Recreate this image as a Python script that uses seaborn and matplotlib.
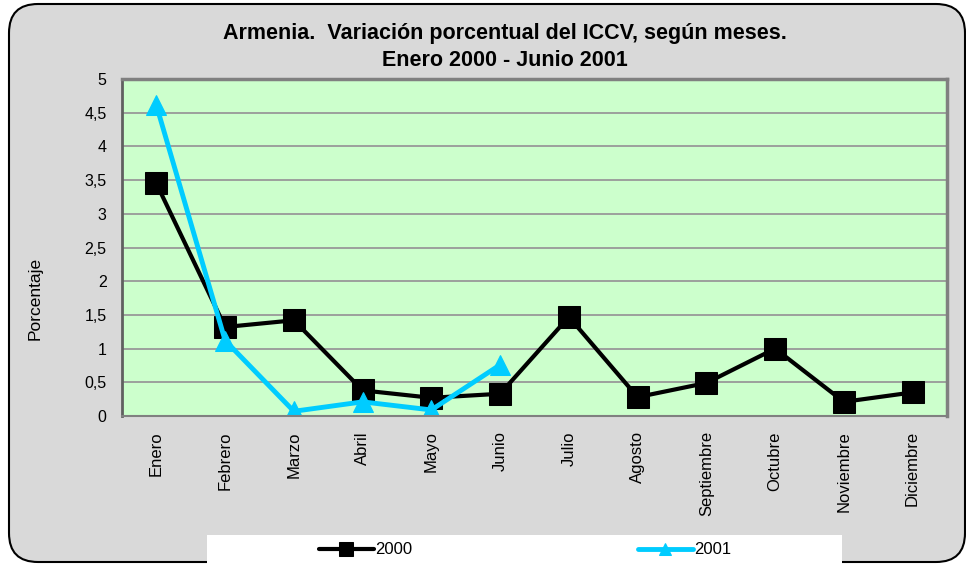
import numpy as np
import pandas as pd
import matplotlib
matplotlib.use('Agg')
import matplotlib.pyplot as plt
import seaborn as sns
from matplotlib.patches import FancyBboxPatch, Rectangle

# datos
meses = ['Enero', 'Febrero', 'Marzo', 'Abril', 'Mayo', 'Junio', 'Julio',
         'Agosto', 'Septiembre', 'Octubre', 'Noviembre', 'Diciembre']
v2000 = [3.45, 1.32, 1.42, 0.38, 0.27, 0.33, 1.47, 0.28, 0.49, 1.0, 0.21, 0.35]
v2001 = [4.61, 1.12, 0.07, 0.21, 0.09, 0.76]
yticks = [0, 0.5, 1, 1.5, 2, 2.5, 3, 3.5, 4, 4.5, 5]

df00 = pd.DataFrame({'pos': np.arange(len(v2000)), 'valor': v2000})
df01 = pd.DataFrame({'pos': np.arange(len(v2001)), 'valor': v2001})

sns.set_style('white')
plt.rcParams['font.family'] = ['Liberation Sans', 'DejaVu Sans']
plt.rcParams['text.color'] = 'black'
plt.rcParams['xtick.color'] = 'black'
plt.rcParams['ytick.color'] = 'black'

W, H = 966, 572
fig = plt.figure(figsize=(W/100, H/100), dpi=100, facecolor='white')

# fondo gris con borde redondeado
bg = FancyBboxPatch((9/W, 10/H), (956/W), (558/H),
                    boxstyle='round,pad=0,rounding_size=0.03',
                    transform=fig.transFigure, facecolor='#D9D9D9',
                    edgecolor='black', linewidth=1.5, mutation_aspect=W/H,
                    zorder=-10)
fig.patches.append(bg)

ax = fig.add_axes([122/W, (H-416)/H, (947-122)/W, (416-79)/H])
ax.set_facecolor('#CCFFCC')

sns.lineplot(data=df00, x='pos', y='valor', ax=ax, color='black', lw=3,
             marker='s', markersize=16, markeredgecolor='black', sort=False,
             label='2000')
sns.lineplot(data=df01, x='pos', y='valor', ax=ax, color='#00CCFF', lw=3.5,
             marker='^', markersize=14, markeredgecolor='#00CCFF', sort=False,
             label='2001')

ax.set_xlim(-0.5, 11.5)
ax.set_ylim(0, 5)
ax.set_yticks(yticks)
ax.set_yticklabels([('%g' % t).replace('.', ',') for t in yticks], fontsize=11.5)
ax.set_xticks(np.arange(len(meses)))
ax.set_xticklabels(meses, rotation=90, fontsize=12)
ax.set_xticks(np.arange(-0.5, 12, 1), minor=True)
ax.tick_params(axis='x', which='major', length=0, pad=11)
ax.tick_params(axis='x', which='minor', length=4, color='#B8F0B8', width=1, direction='out')
ax.tick_params(axis='y', length=5, width=1, color='black', direction='out', pad=6)
ax.yaxis.grid(True, color='#999999', lw=1.3)
ax.xaxis.grid(False)
ax.set_xlabel('')
ax.set_ylabel('')
for s in ['top', 'right']:
    ax.spines[s].set_color('#808080')
    ax.spines[s].set_linewidth(2.5)
ax.spines['left'].set_color('#606060')
ax.spines['left'].set_linewidth(2)
ax.spines['bottom'].set_color('#808080')
ax.spines['bottom'].set_linewidth(1.5)

ax.get_legend().remove()

fig.text(35/W, (H-298)/H, 'Porcentaje', rotation=90, ha='center', va='center', fontsize=12.5)
fig.text(505/W, (H-33)/H, 'Armenia.  Variación porcentual del ICCV, según meses.',
         ha='center', va='center', fontsize=15.5, fontweight='bold')
fig.text(505/W, (H-60)/H, 'Enero 2000 - Junio 2001',
         ha='center', va='center', fontsize=15.5, fontweight='bold')

# leyenda en caja blanca
fig.patches.append(Rectangle((207/W, (H-565)/H), (842-207)/W, 30/H,
                             transform=fig.transFigure, facecolor='white',
                             edgecolor='none', zorder=-5))
handles, labels = ax.get_legend_handles_labels()
fig.legend(handles, labels, loc='center', bbox_to_anchor=(525/W, (H-550)/H),
           ncol=2, frameon=False, fontsize=12, handlelength=3.3,
           handletextpad=0.1, columnspacing=13.5, markerscale=0.6)

fig.savefig('out.png', dpi=100, facecolor=fig.get_facecolor())
